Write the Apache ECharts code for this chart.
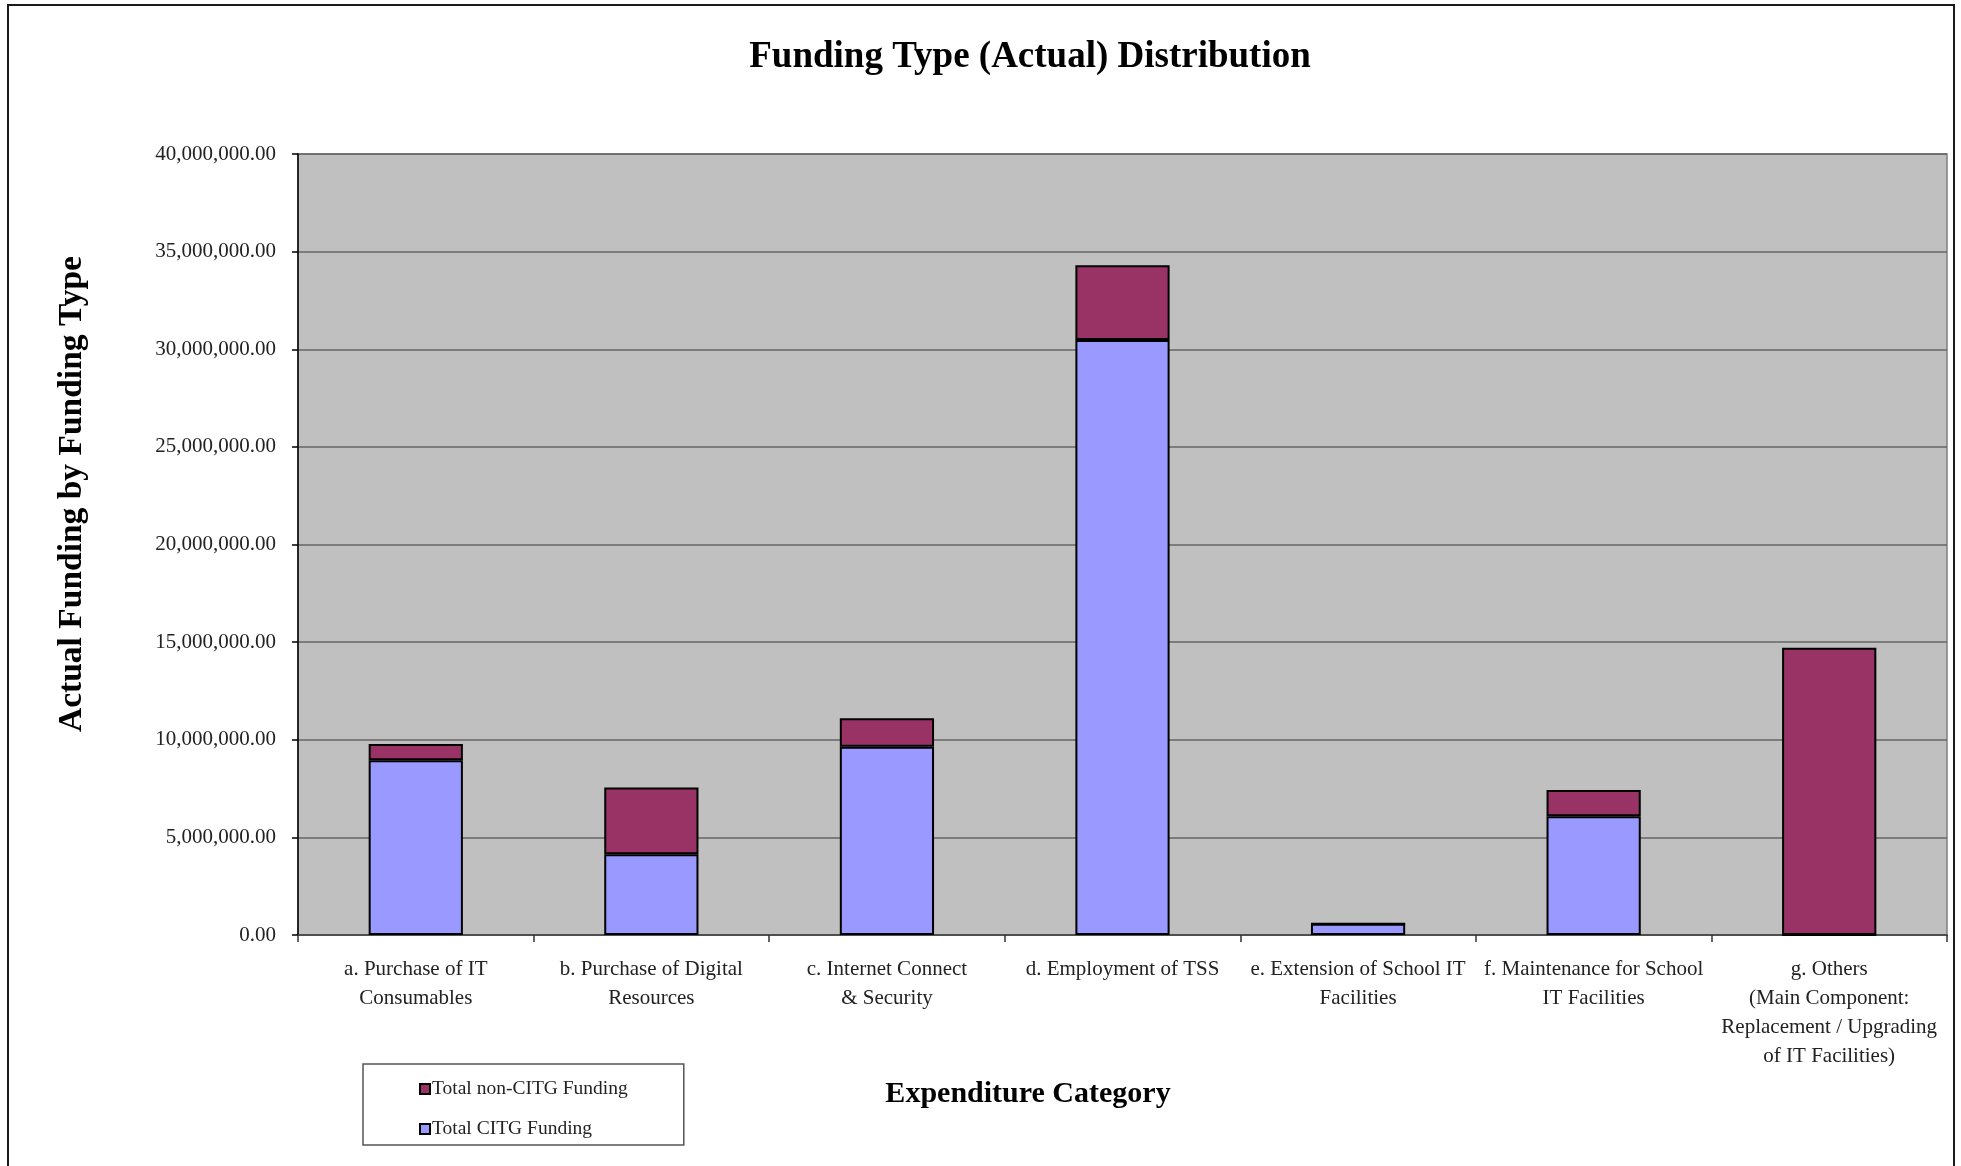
<!DOCTYPE html>
<html>
<head>
<meta charset="utf-8">
<title>Funding Type (Actual) Distribution</title>
<script src="https://cdn.jsdelivr.net/npm/echarts@6/dist/echarts.min.js"></script>
<style>
  html, body { margin: 0; padding: 0; background: #ffffff; }
  #chart { width: 1961px; height: 1166px; }
</style>
</head>
<body>
<div id="chart"></div>
<script>
// Expenditure categories (x axis)
const categories = [
  'a. Purchase of IT\nConsumables',
  'b. Purchase of Digital\nResources',
  'c. Internet Connect\n& Security',
  'd. Employment of TSS',
  'e. Extension of School IT\nFacilities',
  'f. Maintenance for School\nIT Facilities',
  'g. Others\n(Main Component:\nReplacement / Upgrading\nof IT Facilities)'
];

// Actual funding per category, by funding type
const citgFunding    = [8950000, 4130000, 9640000, 30470000, 580000, 6080000, 0];
const nonCitgFunding = [830000, 3430000, 1460000, 3830000, 0, 1350000, 14710000];

// Value axis range
const yMin = 0;
const yMax = 40000000;
const yStep = 5000000;

const seriesNames = ['Total CITG Funding', 'Total non-CITG Funding'];
const legendOrder = ['Total non-CITG Funding', 'Total CITG Funding'];

const serif = '"Liberation Serif", "Times New Roman", "DejaVu Serif", serif';

const chart = echarts.init(document.getElementById('chart'));

const money = v => Number(v).toLocaleString('en-US', {
  minimumFractionDigits: 2, maximumFractionDigits: 2
});

chart.setOption({
  animation: false,
  backgroundColor: '#ffffff',
  textStyle: { fontFamily: serif },
  graphic: [
    {
      type: 'rect', z: -10, silent: true,
      shape: { x: 8, y: 5, width: 1946, height: 1200 },
      style: { fill: null, stroke: '#1a1a1a', lineWidth: 2 }
    },
    {
      type: 'text', x: 1030, y: 57, silent: true,
      style: {
        text: 'Funding Type (Actual) Distribution',
        font: 'bold 37px ' + serif, fill: '#000',
        textAlign: 'center', textVerticalAlign: 'middle'
      }
    },
    {
      type: 'text', x: 72, y: 494, rotation: Math.PI / 2, silent: true,
      style: {
        text: 'Actual Funding by Funding Type',
        font: 'bold 33.5px ' + serif, fill: '#000',
        textAlign: 'center', textVerticalAlign: 'middle'
      }
    },
    {
      type: 'text', x: 1028, y: 1094, silent: true,
      style: {
        text: 'Expenditure Category',
        font: 'bold 30px ' + serif, fill: '#000',
        textAlign: 'center', textVerticalAlign: 'middle'
      }
    }
  ],
  legend: {
    data: legendOrder,
    orient: 'vertical',
    left: 363,
    top: 1064,
    padding: [15, 56, 6, 56],
    borderColor: '#555',
    borderWidth: 1.5,
    itemWidth: 10,
    itemHeight: 10,
    itemGap: 20,
    icon: 'rect',
    textStyle: { fontSize: 19.5, color: '#222', fontFamily: serif, padding: [0, 0, 0, -3] }
  },
  grid: {
    left: 298, top: 154, right: 14, bottom: 231,
    show: true,
    backgroundColor: '#c0c0c0',
    borderColor: '#808080',
    borderWidth: 1.5
  },
  xAxis: {
    type: 'category',
    data: categories,
    boundaryGap: true,
    axisLine: { show: true, lineStyle: { color: '#444', width: 1.5 } },
    axisTick: { show: true, length: 7, lineStyle: { color: '#333', width: 1.5 } },
    axisLabel: {
      interval: 0, fontSize: 21, lineHeight: 29, color: '#222',
      margin: 20, fontFamily: serif
    },
    splitLine: { show: false }
  },
  yAxis: {
    type: 'value',
    min: yMin, max: yMax, interval: yStep,
    axisLine: { show: true, lineStyle: { color: '#000', width: 1.5 } },
    axisTick: { show: true, length: 6, lineStyle: { color: '#000', width: 1.5 } },
    axisLabel: {
      fontSize: 21, color: '#222', margin: 22, fontFamily: serif,
      formatter: money
    },
    splitLine: { show: true, lineStyle: { color: '#666', width: 1.5 } }
  },
  series: [
    {
      name: seriesNames[0],
      type: 'bar',
      stack: 'funding',
      barWidth: '40%',
      data: citgFunding,
      itemStyle: { color: '#9999ff', borderColor: '#000', borderWidth: 2 }
    },
    {
      name: seriesNames[1],
      type: 'bar',
      stack: 'funding',
      barWidth: '40%',
      data: nonCitgFunding,
      itemStyle: { color: '#993366', borderColor: '#000', borderWidth: 2 }
    }
  ]
});
</script>
</body>
</html>
